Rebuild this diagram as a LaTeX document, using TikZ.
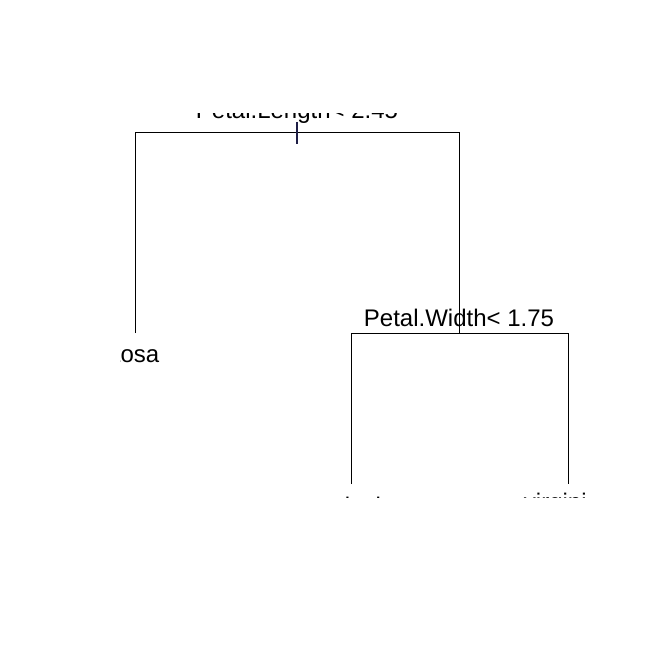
\documentclass[tikz,border=0pt]{standalone}
\usepackage{fontspec}
\setmainfont{Liberation Sans}
\definecolor{tickcol}{RGB}{30,30,70}
\begin{document}
\begin{tikzpicture}[x=1bp,y=-1bp,
  lbl/.style={font=\fontsize{24bp}{28bp}\selectfont, inner sep=0pt, anchor=base},
  branch/.style={draw=black, line width=0.9bp},
  ticksty/.style={draw=tickcol, line width=1.6bp}]
\useasboundingbox[fill=white] (0,0) rectangle (645,645);
\begin{scope}
\clip (120.5,114) rectangle (587,497);
% labels
\node[lbl] (root) at (297,119) {Petal.Length< 2.45};
\node[lbl] (split2) at (459,326) {Petal.Width< 1.75};
\node[lbl, anchor=base east] (setosa) at (159.5,362) {setosa};
\node[lbl] (versicolor) at (351,514) {versicolor};
\node[lbl] (virginica) at (568,510.5) {virginica};
% tree coordinates
\coordinate (rootL) at (135,132);
\coordinate (rootR) at (459,132);
\coordinate (leafA) at (135,333);
\coordinate (nodeB) at (459,333);
\coordinate (bL) at (351,333);
\coordinate (bR) at (568,333);
\coordinate (leafB) at (351,484);
\coordinate (leafC) at (568,484);
\coordinate (tickT) at (297,122);
\coordinate (tickB) at (297,144);
% branches
\draw[branch] (leafA) -- (rootL) -- (rootR) -- (nodeB);
\draw[branch] (leafB) -- (bL) -- (bR) -- (leafC);
\draw[ticksty] (tickT) -- (tickB);
\end{scope}
\end{tikzpicture}
\end{document}
